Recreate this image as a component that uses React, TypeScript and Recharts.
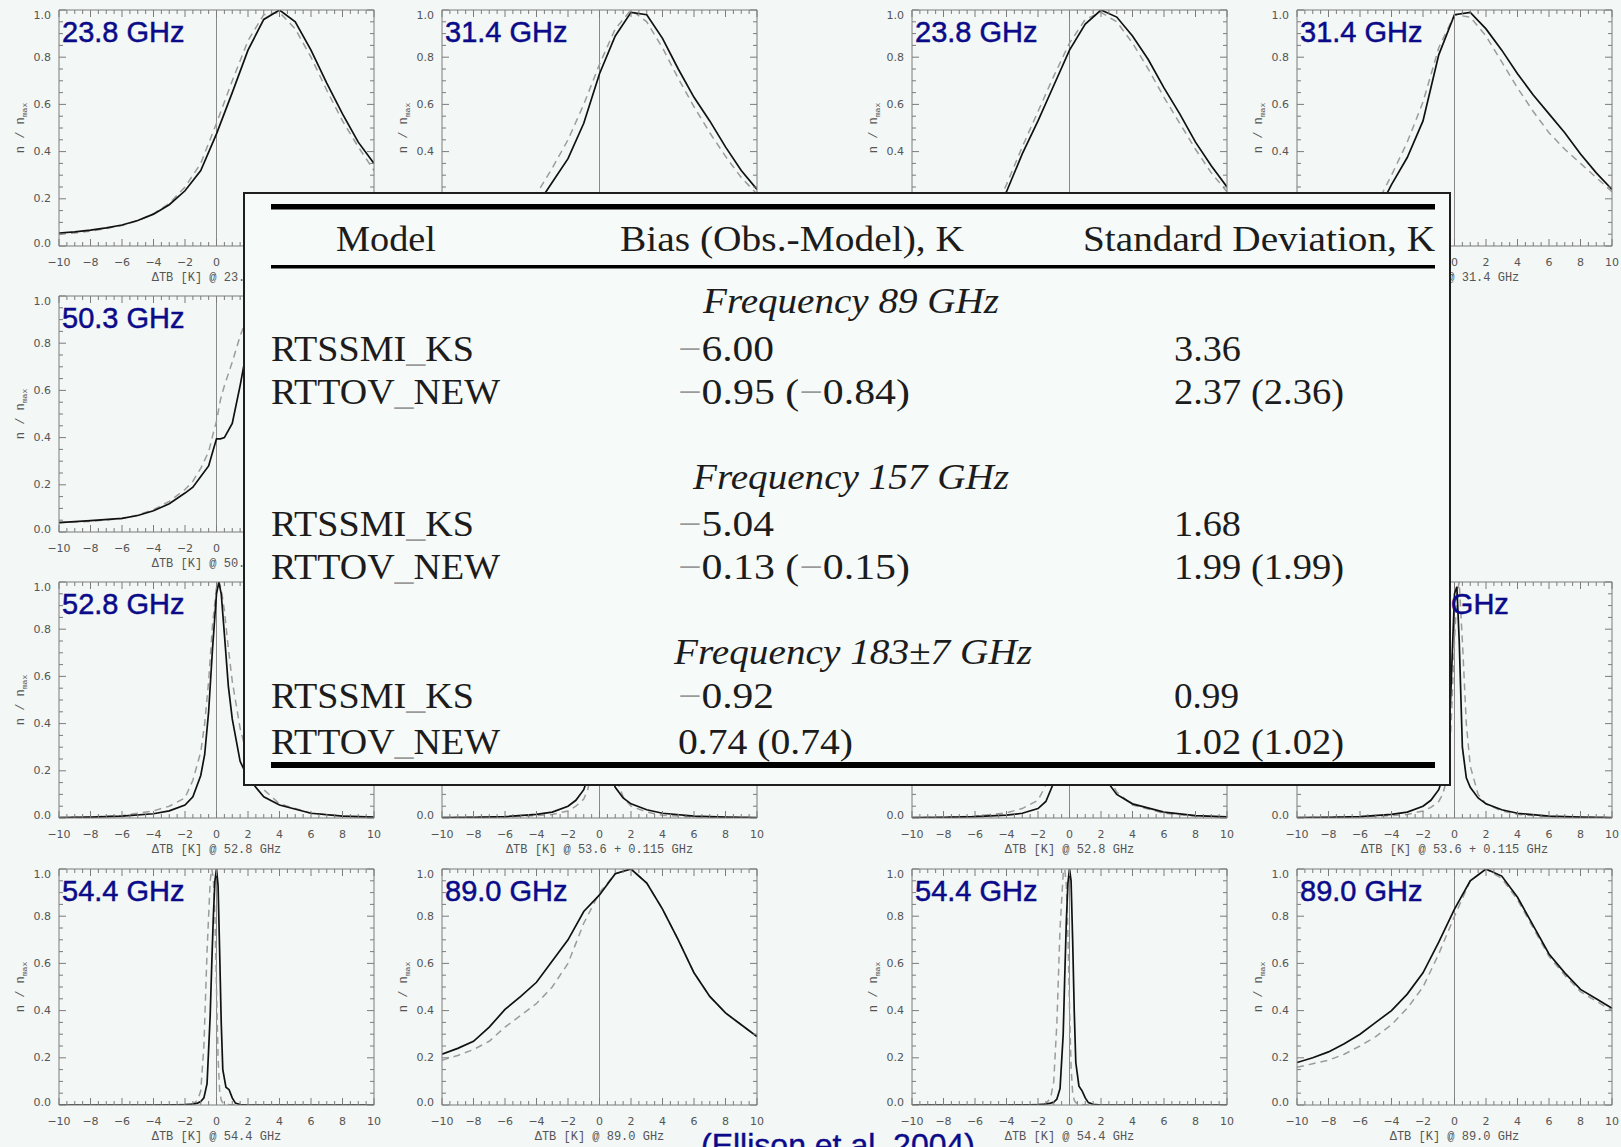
import React from "react";
import { LineChart, Line, XAxis, YAxis, ReferenceLine } from "recharts";

// sample positions (ΔTB, K)
const X_INT = [-10, -9, -8, -7, -6, -5, -4, -3, -2, -1, 0, 1, 2, 3, 4, 5, 6, 7, 8, 9, 10];
const X_503 = [-10, -8, -6, -5, -4, -3, -2, -1.5, -1, -0.5, -0.2, 0, 0.25, 0.5, 1, 1.5, 2, 3, 4, 5, 6, 8, 10];
const X_PEAK = [-10, -8, -6, -4, -3, -2, -1.5, -1, -0.75, -0.5, -0.25, 0, 0.15, 0.3, 0.5, 0.75, 1, 1.5, 2, 3, 4, 6, 8, 10];
const X_SPIKE = [-10, -8, -6, -4, -2, -1.5, -1.2, -1, -0.8, -0.6, -0.4, -0.3, -0.2, -0.1, 0, 0.1, 0.2, 0.3, 0.4, 0.6, 0.8, 1, 1.2, 1.5, 2, 4, 6, 8, 10];

// left block: observed (solid) and model (dashed), n / n_max
const OBS_A238 = [0.055, 0.06, 0.067, 0.077, 0.089, 0.108, 0.135, 0.175, 0.234, 0.32, 0.475, 0.65, 0.83, 0.96, 1.0, 0.95, 0.83, 0.69, 0.56, 0.44, 0.35];
const MOD_A238 = [0.05, 0.055, 0.063, 0.074, 0.087, 0.107, 0.137, 0.18, 0.25, 0.35, 0.52, 0.7, 0.87, 0.98, 0.99, 0.92, 0.8, 0.66, 0.53, 0.42, 0.32];
const OBS_A314 = [0.01, 0.015, 0.02, 0.03, 0.05, 0.09, 0.17, 0.27, 0.37, 0.52, 0.73, 0.89, 0.99, 0.98, 0.88, 0.75, 0.63, 0.53, 0.42, 0.32, 0.24];
const MOD_A314 = [0.01, 0.015, 0.025, 0.04, 0.07, 0.13, 0.22, 0.33, 0.45, 0.6, 0.77, 0.92, 1.0, 0.95, 0.84, 0.71, 0.59, 0.48, 0.38, 0.29, 0.22];
const OBS_A503 = [0.04, 0.048, 0.058, 0.07, 0.09, 0.12, 0.165, 0.19, 0.235, 0.28, 0.35, 0.395, 0.395, 0.4, 0.46, 0.62, 0.8, 0.98, 0.85, 0.55, 0.32, 0.12, 0.05];
const MOD_A503 = [0.04, 0.045, 0.057, 0.072, 0.095, 0.13, 0.18, 0.215, 0.27, 0.34, 0.42, 0.47, 0.56, 0.62, 0.72, 0.83, 0.92, 1.0, 0.78, 0.48, 0.28, 0.1, 0.04];
const OBS_A528 = [0.002, 0.004, 0.008, 0.018, 0.03, 0.055, 0.09, 0.18, 0.27, 0.45, 0.72, 0.95, 1.0, 0.95, 0.78, 0.56, 0.42, 0.24, 0.17, 0.09, 0.055, 0.02, 0.008, 0.004];
const MOD_A528 = [0.002, 0.004, 0.01, 0.03, 0.05, 0.085, 0.16, 0.28, 0.4, 0.58, 0.82, 0.98, 1.0, 0.97, 0.88, 0.72, 0.58, 0.38, 0.25, 0.12, 0.06, 0.02, 0.008, 0.004];
const OBS_A536 = [0.002, 0.003, 0.006, 0.015, 0.025, 0.05, 0.075, 0.12, 0.17, 0.27, 0.52, 0.95, 0.98, 0.72, 0.32, 0.18, 0.13, 0.085, 0.06, 0.035, 0.02, 0.008, 0.004, 0.002];
const MOD_A536 = [0.002, 0.003, 0.005, 0.01, 0.015, 0.03, 0.05, 0.08, 0.12, 0.2, 0.45, 0.85, 1.0, 0.9, 0.55, 0.3, 0.18, 0.09, 0.05, 0.025, 0.012, 0.005, 0.003, 0.002];
const OBS_A544 = [0, 0, 0, 0, 0.002, 0.004, 0.008, 0.015, 0.03, 0.09, 0.38, 0.6, 0.8, 0.95, 1.0, 0.93, 0.65, 0.35, 0.15, 0.075, 0.065, 0.03, 0.008, 0.002, 0, 0, 0, 0, 0];
const MOD_A544 = [0, 0, 0, 0, 0.002, 0.005, 0.02, 0.06, 0.25, 0.65, 0.95, 1.0, 0.96, 0.8, 0.5, 0.2, 0.06, 0.02, 0.01, 0.005, 0.002, 0, 0, 0, 0, 0, 0, 0, 0];
const OBS_A890 = [0.215, 0.24, 0.27, 0.33, 0.405, 0.46, 0.52, 0.61, 0.7, 0.82, 0.89, 0.98, 1.0, 0.94, 0.83, 0.7, 0.56, 0.46, 0.39, 0.34, 0.29];
const MOD_A890 = [0.19, 0.21, 0.235, 0.27, 0.33, 0.38, 0.43, 0.5, 0.6, 0.77, 0.9, 0.98, 1.0, 0.94, 0.83, 0.7, 0.56, 0.46, 0.39, 0.34, 0.29];

// right block
const OBS_B238 = [0.01, 0.012, 0.015, 0.02, 0.04, 0.1, 0.23, 0.39, 0.53, 0.68, 0.83, 0.94, 1.0, 0.97, 0.89, 0.79, 0.67, 0.56, 0.44, 0.34, 0.25];
const MOD_B238 = [0.01, 0.012, 0.015, 0.022, 0.045, 0.12, 0.26, 0.42, 0.57, 0.72, 0.86, 0.96, 0.99, 0.95, 0.86, 0.75, 0.63, 0.52, 0.41, 0.31, 0.23];
const OBS_B314 = [0.01, 0.012, 0.015, 0.02, 0.04, 0.13, 0.26, 0.375, 0.53, 0.81, 0.98, 0.99, 0.92, 0.83, 0.73, 0.64, 0.56, 0.48, 0.39, 0.31, 0.24];
const MOD_B314 = [0.01, 0.012, 0.015, 0.022, 0.05, 0.17, 0.3, 0.44, 0.61, 0.84, 0.98, 0.97, 0.89, 0.78, 0.67, 0.57, 0.48, 0.41, 0.35, 0.29, 0.23];
const OBS_B528 = [0.002, 0.003, 0.006, 0.012, 0.02, 0.04, 0.07, 0.15, 0.25, 0.43, 0.72, 0.96, 1.0, 0.94, 0.78, 0.58, 0.45, 0.28, 0.19, 0.1, 0.06, 0.025, 0.01, 0.005];
const MOD_B528 = [0.002, 0.003, 0.008, 0.022, 0.04, 0.075, 0.14, 0.27, 0.4, 0.6, 0.84, 0.99, 1.0, 0.96, 0.86, 0.7, 0.56, 0.36, 0.23, 0.11, 0.055, 0.02, 0.008, 0.004];
const OBS_B536 = [0.002, 0.003, 0.006, 0.015, 0.025, 0.05, 0.075, 0.12, 0.17, 0.26, 0.5, 0.95, 0.98, 0.75, 0.3, 0.17, 0.13, 0.085, 0.06, 0.035, 0.02, 0.008, 0.004, 0.002];
const MOD_B536 = [0.002, 0.003, 0.005, 0.01, 0.015, 0.03, 0.045, 0.07, 0.1, 0.16, 0.35, 0.75, 0.95, 1.0, 0.75, 0.4, 0.22, 0.1, 0.06, 0.03, 0.015, 0.006, 0.003, 0.002];
const OBS_B544 = [0, 0, 0, 0, 0.002, 0.004, 0.008, 0.012, 0.025, 0.07, 0.3, 0.55, 0.78, 0.94, 1.0, 0.95, 0.7, 0.4, 0.18, 0.08, 0.06, 0.03, 0.01, 0.003, 0, 0, 0, 0, 0];
const MOD_B544 = [0, 0, 0, 0, 0.002, 0.006, 0.03, 0.1, 0.35, 0.75, 0.98, 1.0, 0.93, 0.72, 0.42, 0.16, 0.05, 0.02, 0.01, 0.004, 0.002, 0, 0, 0, 0, 0, 0, 0, 0];
const OBS_B890 = [0.18, 0.2, 0.225, 0.26, 0.3, 0.35, 0.4, 0.47, 0.56, 0.69, 0.83, 0.95, 1.0, 0.97, 0.88, 0.76, 0.64, 0.56, 0.49, 0.45, 0.41];
const MOD_B890 = [0.16, 0.175, 0.19, 0.215, 0.25, 0.29, 0.34, 0.41, 0.5, 0.64, 0.8, 0.95, 1.0, 0.96, 0.87, 0.75, 0.63, 0.55, 0.48, 0.44, 0.4];

const X_TICKS = Array.from({ length: 41 }, (_, i) => -10 + i * 0.5);
const Y_TICKS = Array.from({ length: 21 }, (_, i) => i / 20);

// table
const HEADERS = ["Model", "Bias (Obs.-Model), K", "Standard Deviation, K"];
const FREQS = ["Frequency 89 GHz", "Frequency 157 GHz", "Frequency 183±7 GHz"];
const MODELS = ["RTSSMI_KS", "RTTOV_NEW"];
const BIAS = [["−6.00", "−0.95 (−0.84)"], ["−5.04", "−0.13 (−0.15)"], ["−0.92", "0.74 (0.74)"]];
const STDEV = [["3.36", "2.37 (2.36)"], ["1.68", "1.99 (1.99)"], ["0.99", "1.02 (1.02)"]];

const PANELS = [
  { row: 0, col: 0, title: "23.8 GHz", xlabel: "ΔTB [K] @ 23.8 GHz", xs: X_INT, obs: OBS_A238, mod: MOD_A238 },
  { row: 0, col: 1, title: "31.4 GHz", xlabel: "ΔTB [K] @ 31.4 GHz", xs: X_INT, obs: OBS_A314, mod: MOD_A314 },
  { row: 0, col: 2, title: "23.8 GHz", xlabel: "ΔTB [K] @ 23.8 GHz", xs: X_INT, obs: OBS_B238, mod: MOD_B238 },
  { row: 0, col: 3, title: "31.4 GHz", xlabel: "ΔTB [K] @ 31.4 GHz", xs: X_INT, obs: OBS_B314, mod: MOD_B314 },
  { row: 1, col: 0, title: "50.3 GHz", xlabel: "ΔTB [K] @ 50.3 GHz", xs: X_503, obs: OBS_A503, mod: MOD_A503 },
  { row: 2, col: 0, title: "52.8 GHz", xlabel: "ΔTB [K] @ 52.8 GHz", xs: X_PEAK, obs: OBS_A528, mod: MOD_A528 },
  { row: 2, col: 1, title: "53.6±0.115 GHz", xlabel: "ΔTB [K] @ 53.6  + 0.115 GHz", xs: X_PEAK, obs: OBS_A536, mod: MOD_A536 },
  { row: 2, col: 2, title: "52.8 GHz", xlabel: "ΔTB [K] @ 52.8 GHz", xs: X_PEAK, obs: OBS_B528, mod: MOD_B528 },
  { row: 2, col: 3, title: "53.6±0.115 GHz", xlabel: "ΔTB [K] @ 53.6  + 0.115 GHz", xs: X_PEAK, obs: OBS_B536, mod: MOD_B536 },
  { row: 3, col: 0, title: "54.4 GHz", xlabel: "ΔTB [K] @ 54.4 GHz", xs: X_SPIKE, obs: OBS_A544, mod: MOD_A544 },
  { row: 3, col: 1, title: "89.0 GHz", xlabel: "ΔTB [K] @ 89.0 GHz", xs: X_INT, obs: OBS_A890, mod: MOD_A890 },
  { row: 3, col: 2, title: "54.4 GHz", xlabel: "ΔTB [K] @ 54.4 GHz", xs: X_SPIKE, obs: OBS_B544, mod: MOD_B544 },
  { row: 3, col: 3, title: "89.0 GHz", xlabel: "ΔTB [K] @ 89.0 GHz", xs: X_INT, obs: OBS_B890, mod: MOD_B890 },
];

// layout
const COL_X = [59, 442, 912, 1297];
const ROW_Y = [10, 296, 582, 869];
const AX_W = 58;
const PAD_T = 5;
const W = 390;
const H = 286;
const BG = "#f3f7f5";
const FRAME = "#7c7c7c";
const NAVY = "#0b0b8a";
const TABLE = { x0: 243, y0: 192, x1: 1451, y1: 786 };

// text that sits entirely under the table box is not drawn
const covered = (xL: number, xR: number, yT: number, yB: number) =>
  xL >= TABLE.x0 && xR <= TABLE.x1 && yT >= TABLE.y0 && yB <= TABLE.y1;

const fmtX = (v: number) => (v < 0 ? "−" + Math.abs(v) : String(v));

function XTick(props: any) {
  const { x, y, payload, side, ox, oy } = props;
  const v = payload.value;
  const major = Math.abs(v / 2 - Math.round(v / 2)) < 1e-6;
  const len = major ? 7 : 4;
  const dir = side === "top" ? 1 : -1;
  const s = fmtX(v);
  const hw = s.length * 3.5;
  const show = side !== "top" && major && !covered(ox + x - hw, ox + x + hw, oy + y + 10, oy + y + 22);
  return (
    <g>
      <line x1={x} x2={x} y1={y} y2={y + dir * len} stroke={FRAME} strokeWidth={1} />
      {show && (
        <text x={x} y={y + 16} textAnchor="middle" dominantBaseline="central"
          fontSize={11} fill="#555" fontFamily="DejaVu Sans">{s}</text>
      )}
    </g>
  );
}

function YTick(props: any) {
  const { x, y, payload, side, ox, oy } = props;
  const v = payload.value;
  const major = Math.abs(v * 5 - Math.round(v * 5)) < 1e-6;
  const len = major ? 7 : 4;
  const dir = side === "right" ? -1 : 1;
  // IDL pulls the end labels inside the frame
  const shift = v > 0.99 ? 5 : v < 0.01 ? -3 : 0;
  const show = side !== "right" && major && !covered(ox + x - 27, ox + x - 8, oy + y + shift - 5, oy + y + shift + 5);
  return (
    <g>
      <line x1={x} x2={x + dir * len} y1={y} y2={y} stroke={FRAME} strokeWidth={1} />
      {show && (
        <text x={x - 8} y={y + shift} textAnchor="end" dominantBaseline="central"
          fontSize={11} fill="#555" fontFamily="DejaVu Sans">{v.toFixed(1)}</text>
      )}
    </g>
  );
}

function XLabel(props: any) {
  const { viewBox, text, ox, oy } = props;
  if (!viewBox) return null;
  const cx = viewBox.x + viewBox.width / 2;
  const hw = text.length * 3.6;
  if (covered(ox + cx - hw, ox + cx + hw, oy + viewBox.y + 26, oy + viewBox.y + 38)) return null;
  return (
    <text x={cx} y={viewBox.y + 32} textAnchor="middle"
      dominantBaseline="central" fontSize={12} fill="#555" fontFamily="Liberation Mono">{text}</text>
  );
}

function YLabel(props: any) {
  const { viewBox, ox, oy } = props;
  if (!viewBox) return null;
  const cx = viewBox.x + 20;
  const cy = viewBox.y + viewBox.height / 2;
  if (covered(ox + cx - 6, ox + cx + 6, oy + cy - 30, oy + cy + 30)) return null;
  return (
    <text x={cx} y={cy} transform={`rotate(-90 ${cx} ${cy})`} textAnchor="middle"
      dominantBaseline="central" fontSize={12} fill="#555" fontFamily="Liberation Mono">
      n / n<tspan fontSize={8} dy={3}>max</tspan>
    </text>
  );
}

function Panel({ p }: { p: (typeof PANELS)[number] }) {
  const data = p.xs.map((x, i) => ({ x, obs: p.obs[i], mod: p.mod[i] }));
  const ox = COL_X[p.col] - AX_W;
  const oy = ROW_Y[p.row] - PAD_T;
  const titleHidden = covered(COL_X[p.col] + 4, COL_X[p.col] + 4 + p.title.length * 15.5, ROW_Y[p.row] + 8, ROW_Y[p.row] + 40);
  return (
    <div style={{ position: "absolute", left: ox, top: oy, width: W, height: H }}>
      <LineChart width={W} height={H} data={data} margin={{ top: 4, right: 16, bottom: 0, left: 0 }}>
        <XAxis xAxisId="b" dataKey="x" type="number" domain={[-10, 10]} allowDataOverflow
          ticks={X_TICKS} interval={0} height={45} tickSize={0} tickMargin={0} tickLine={false}
          axisLine={{ stroke: FRAME }} tick={<XTick side="bottom" ox={ox} oy={oy} />}
          label={<XLabel text={p.xlabel} ox={ox} oy={oy} />} />
        <XAxis xAxisId="t" orientation="top" dataKey="x" type="number" domain={[-10, 10]} allowDataOverflow
          ticks={X_TICKS} interval={0} height={1} tickSize={0} tickMargin={0} tickLine={false}
          axisLine={{ stroke: FRAME }} tick={<XTick side="top" ox={ox} oy={oy} />} />
        <YAxis yAxisId="l" type="number" domain={[0, 1]} allowDataOverflow ticks={Y_TICKS} interval={0}
          width={AX_W} tickSize={0} tickMargin={0} tickLine={false} axisLine={{ stroke: FRAME }}
          tick={<YTick side="left" ox={ox} oy={oy} />} label={<YLabel ox={ox} oy={oy} />} />
        <YAxis yAxisId="r" orientation="right" type="number" domain={[0, 1]} allowDataOverflow ticks={Y_TICKS}
          interval={0} width={1} tickSize={0} tickMargin={0} tickLine={false} axisLine={{ stroke: FRAME }}
          tick={<YTick side="right" ox={ox} oy={oy} />} />
        <ReferenceLine xAxisId="b" yAxisId="l" x={0} stroke="#8a8a8a" strokeWidth={1} />
        <Line xAxisId="b" yAxisId="l" type="linear" dataKey="mod" stroke="#9c9c9c" strokeWidth={1.5}
          strokeDasharray="7 5" dot={false} activeDot={false} isAnimationActive={false} />
        <Line xAxisId="b" yAxisId="l" type="linear" dataKey="obs" stroke="#111" strokeWidth={1.7}
          dot={false} activeDot={false} isAnimationActive={false} />
      </LineChart>
      {!titleHidden && (
        <div style={{ position: "absolute", left: AX_W + 3, top: 13, fontFamily: "Liberation Sans, Arial, sans-serif",
          fontSize: 29, lineHeight: "29px", color: NAVY, whiteSpace: "nowrap", WebkitTextStroke: `0.5px ${NAVY}` }}>
          {p.title}
        </div>
      )}
    </div>
  );
}

// minus signs and underscores came out grey in the scanned table
function Grey({ s }: { s: string }) {
  return (
    <>
      {s.split(/([−_])/).map((part, i) =>
        part === "−" || part === "_" ? <tspan key={i} fill="#9a9a9a">{part}</tspan> : <tspan key={i}>{part}</tspan>
      )}
    </>
  );
}

function Cell({ x, y, w, s, italic }: { x: number; y: number; w: number; s: string; italic?: boolean }) {
  return (
    <text x={x} y={y} textLength={w} lengthAdjust="spacingAndGlyphs" fontSize={36}
      fontStyle={italic ? "italic" : "normal"} fill="#1c1c1c" fontFamily="Liberation Serif, Times New Roman, serif">
      <Grey s={s} />
    </text>
  );
}

const FREQ_Y = [313, 489, 664];
const ROW_BASE = [[361, 404], [536, 579], [708, 754]];
const FREQ_X = [[703, 296], [693, 316], [674, 358]];
const BIAS_W = [[96, 232], [96, 232], [96, 175]];
const SD_W = [[67, 170], [67, 170], [65, 170]];

function Table() {
  return (
    <svg width={1208} height={594} style={{ position: "absolute", left: 243, top: 192 }}>
      <g transform="translate(-243,-192)">
        <rect x={244} y={193} width={1206} height={592} fill="#f6faf8" stroke="#1e1e1e" strokeWidth={2} />
        <rect x={271} y={204} width={1164} height={5.5} fill="#000" />
        <rect x={271} y={265} width={1164} height={3.5} fill="#000" />
        <rect x={271} y={762} width={1164} height={6} fill="#000" />
        <Cell x={336} y={251} w={100} s={HEADERS[0]} />
        <Cell x={620} y={251} w={344} s={HEADERS[1]} />
        <Cell x={1083} y={251} w={352} s={HEADERS[2]} />
        {FREQS.map((f, g) => (
          <g key={f}>
            <Cell x={FREQ_X[g][0]} y={FREQ_Y[g]} w={FREQ_X[g][1]} s={f} italic />
            {MODELS.map((m, r) => (
              <g key={m}>
                <Cell x={271} y={ROW_BASE[g][r]} w={r === 0 ? 203 : 229} s={m} />
                <Cell x={678} y={ROW_BASE[g][r]} w={BIAS_W[g][r]} s={BIAS[g][r]} />
                <Cell x={1174} y={ROW_BASE[g][r]} w={SD_W[g][r]} s={STDEV[g][r]} />
              </g>
            ))}
          </g>
        ))}
      </g>
    </svg>
  );
}

export default function App() {
  return (
    <div style={{ position: "absolute", left: 0, top: 0, width: 1621, height: 1147, overflow: "hidden", background: BG }}>
      {PANELS.map((p, i) => (
        <Panel key={i} p={p} />
      ))}
      <Table />
      <div style={{ position: "absolute", left: 701, top: 1129, fontFamily: "Liberation Sans, Arial, sans-serif",
        fontSize: 32, lineHeight: "32px", color: NAVY, whiteSpace: "nowrap", WebkitTextStroke: `0.4px ${NAVY}` }}>
        (Ellison et al. 2004)
      </div>
    </div>
  );
}
